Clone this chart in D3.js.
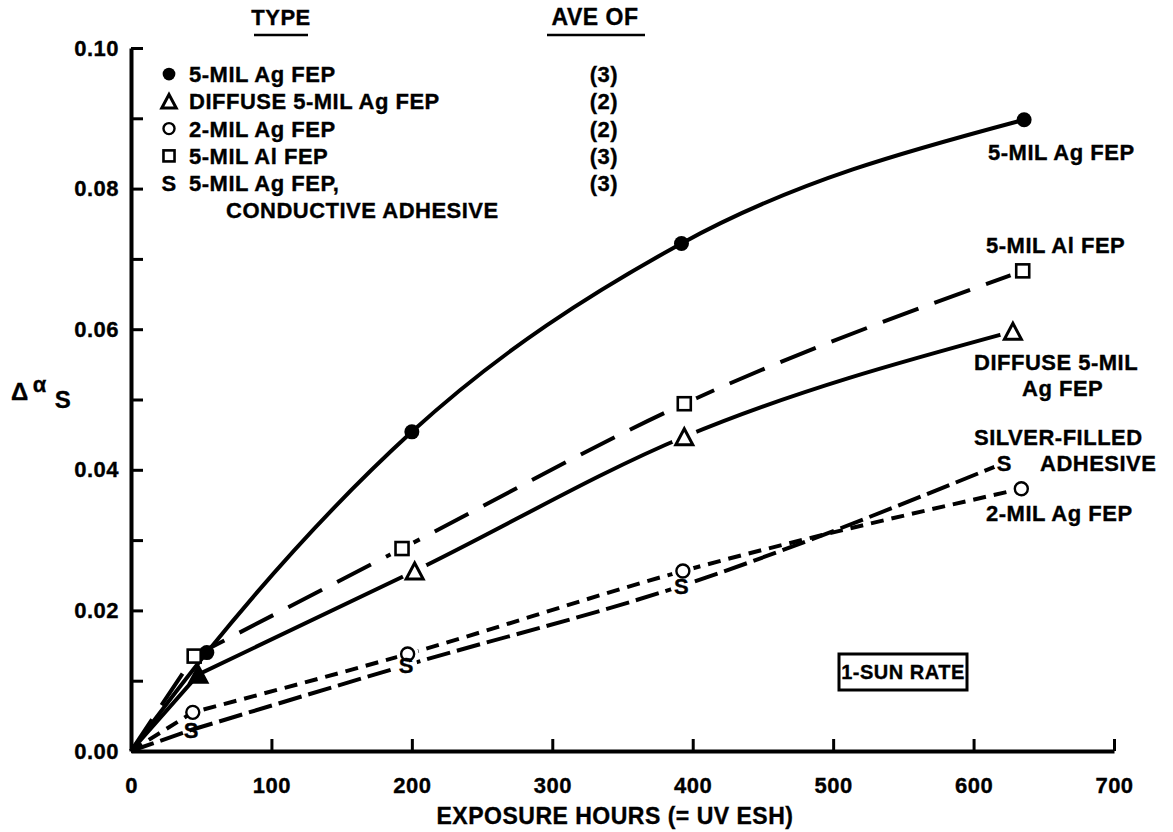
<!DOCTYPE html>
<html>
<head>
<meta charset="utf-8">
<script src="https://cdn.jsdelivr.net/npm/d3@7"></script>
<style>
  body { margin: 0; background: #fff; }
  svg text { font-family: "Liberation Sans", Arial, sans-serif; font-weight: bold; fill: #000; stroke: #000; stroke-width: 0.35px; letter-spacing: 0.5px; }
</style>
</head>
<body>
<svg id="chart" width="1173" height="832"></svg>
<script>
// exposure hours and change in solar absorptance
const hoursAgFep = [0, 54, 200, 392, 636];
const dAlphaAgFep = [0, 0.0140, 0.0454, 0.0722, 0.0898];
const hoursDiffuse = [0, 48, 202, 394, 628];
const dAlphaDiffuse = [0, 0.0109, 0.0256, 0.0447, 0.0597];
const hours2Mil = [0, 44, 197, 393, 634];
const dAlpha2Mil = [0, 0.0055, 0.0138, 0.0256, 0.0373];
const hoursAlFep = [0, 45, 193, 394, 635];
const dAlphaAlFep = [0, 0.0135, 0.0288, 0.0494, 0.0683];
const hoursConductive = [0, 43, 196, 392, 622];
const dAlphaConductive = [0, 0.0030, 0.0122, 0.0235, 0.0410];

const legendTypes = ["5-MIL Ag FEP", "DIFFUSE 5-MIL Ag FEP", "2-MIL Ag FEP", "5-MIL Al FEP", "5-MIL Ag FEP,"];
const legendAve = ["(3)", "(2)", "(2)", "(3)", "(3)"];
const legendMarkers = ["dot", "tri", "circle", "square", "s"];

const xTicks = [0, 100, 200, 300, 400, 500, 600, 700];
const yTicks = [0, 0.01, 0.02, 0.03, 0.04, 0.05, 0.06, 0.07, 0.08, 0.09, 0.10];

const svg = d3.select("#chart");
const width = +svg.attr("width");
const height = +svg.attr("height");
const margin = { top: 48, right: 59, bottom: 81, left: 131 };

const x = d3.scaleLinear().domain([0, 700]).range([margin.left, width - margin.right]);
const y = d3.scaleLinear().domain([0, 0.10]).range([height - margin.bottom, margin.top]);

// axes
const yAxis = svg.append("g")
  .attr("transform", `translate(${margin.left},0)`)
  .call(d3.axisLeft(y)
    .tickValues(yTicks)
    .tickSize(-12)
    .tickSizeOuter(0)
    .tickPadding(12)
    .tickFormat(d => Math.round(d * 100) % 2 === 0 ? d3.format(".2f")(d) : ""));

const xAxis = svg.append("g")
  .attr("transform", `translate(0,${height - margin.bottom})`)
  .call(d3.axisBottom(x)
    .tickValues(xTicks)
    .tickSize(-12)
    .tickSizeOuter(0)
    .tickPadding(26));

[xAxis, yAxis].forEach(a => {
  a.select(".domain").attr("stroke", "#000").attr("stroke-width", 4);
  a.selectAll(".tick line").attr("stroke", "#000").attr("stroke-width", 3);
  a.selectAll(".tick text").attr("font-size", 22).attr("font-family", null);
});

// axis titles
svg.append("text")
  .attr("x", 615)
  .attr("y", 824)
  .attr("text-anchor", "middle")
  .attr("font-size", 23)
  .text("EXPOSURE HOURS (= UV ESH)");

const yTitle = svg.append("text").attr("x", 11).attr("y", 400).attr("font-size", 24);
yTitle.append("tspan").text("Δ");
yTitle.append("tspan").attr("font-size", 22).attr("dy", -8).attr("dx", 4).text("α");
yTitle.append("tspan").attr("font-size", 24).attr("dy", 16).attr("dx", 8).text("S");

// series
const series = [
  { hours: hoursAgFep, vals: dAlphaAgFep, marker: "dot", dash: null, halo: 0 },
  { hours: hoursDiffuse, vals: dAlphaDiffuse, marker: "tri", dash: null, halo: 13 },
  { hours: hours2Mil, vals: dAlpha2Mil, marker: "circle", dash: "13,8", halo: 11 },
  { hours: hoursAlFep, vals: dAlphaAlFep, marker: "square", dash: "38,17", halo: 13 },
  { hours: hoursConductive, vals: dAlphaConductive, marker: "s", dash: "24,7", halo: 11 }
];

const smooth = d3.line()
  .x(d => x(d[0]))
  .y(d => y(d[1]))
  .curve(d3.curveMonotoneX);
const straight = d3.line()
  .x(d => x(d[0]))
  .y(d => y(d[1]));

series.forEach(s => {
  const pts = s.hours.map((h, i) => [h, s.vals[i]]);
  // the top curve bends all the way from the origin, the others run
  // straight out of the origin and bend gently after the first reading
  const d = s.marker === "dot" ? smooth(pts) : straight(pts.slice(0, 2)) + smooth(pts.slice(1)).replace(/^M/, "L");
  svg.append("path")
    .attr("d", d)
    .attr("fill", "none")
    .attr("stroke", "#000")
    .attr("stroke-width", 4)
    .attr("stroke-dasharray", s.dash);
});

function drawMarker(g, type, cx, cy, filled, k) {
  if (type === "dot") {
    g.append("circle").attr("cx", cx).attr("cy", cy).attr("r", 7.5 * k).attr("fill", "#000");
  } else if (type === "tri") {
    const h = 16 * k, w = 17 * k;
    g.append("path")
      .attr("d", `M${cx},${cy - h / 2}L${cx + w / 2},${cy + h / 2}L${cx - w / 2},${cy + h / 2}Z`)
      .attr("fill", filled ? "#000" : "#fff").attr("stroke", "#000").attr("stroke-width", 3).attr("stroke-linejoin", "miter");
  } else if (type === "circle") {
    g.append("circle").attr("cx", cx).attr("cy", cy).attr("r", 6.5 * k)
      .attr("fill", "#fff").attr("stroke", "#000").attr("stroke-width", 2.4);
  } else if (type === "square") {
    const a = 13 * k;
    g.append("rect").attr("x", cx - a / 2).attr("y", cy - a / 2).attr("width", a).attr("height", a)
      .attr("fill", "#fff").attr("stroke", "#000").attr("stroke-width", 2.6);
  } else if (type === "s") {
    g.append("text").attr("x", cx).attr("y", cy).attr("dy", "0.36em")
      .attr("text-anchor", "middle").attr("font-size", 22).text("S");
  }
}

// white halos break the lines around the open markers
series.forEach(s => {
  s.hours.forEach((h, i) => {
    if (i === 0 || s.halo === 0 || h < 100) return;
    svg.append("circle").attr("cx", x(h)).attr("cy", y(s.vals[i])).attr("r", s.halo).attr("fill", "#fff");
  });
});
series.forEach(s => {
  s.hours.forEach((h, i) => {
    if (i === 0) return;
    // near the origin the crowded lines fill the triangle in
    drawMarker(svg, s.marker, x(h), y(s.vals[i]), h < 100, 1);
  });
});

// legend
svg.append("text").attr("x", 281).attr("y", 25).attr("text-anchor", "middle").attr("font-size", 22).text("TYPE");
svg.append("line").attr("x1", 254).attr("x2", 308).attr("y1", 35).attr("y2", 35).attr("stroke", "#000").attr("stroke-width", 2.5);
svg.append("text").attr("x", 595).attr("y", 25).attr("text-anchor", "middle").attr("font-size", 23).text("AVE OF");
svg.append("line").attr("x1", 547).attr("x2", 645).attr("y1", 35).attr("y2", 35).attr("stroke", "#000").attr("stroke-width", 2.5);

legendTypes.forEach((t, i) => {
  const ly = 74 + i * 27.3;
  drawMarker(svg, legendMarkers[i], 169, ly, false, 0.85);
  svg.append("text").attr("x", 189).attr("y", ly).attr("dy", "0.36em").attr("font-size", 22).text(t);
  svg.append("text").attr("x", 604).attr("y", ly).attr("dy", "0.36em").attr("text-anchor", "middle").attr("font-size", 22).text(legendAve[i]);
});
svg.append("text").attr("x", 226).attr("y", 74 + 5 * 27.3).attr("dy", "0.36em").attr("font-size", 22).text("CONDUCTIVE ADHESIVE");

// curve labels
const curveLabels = [
  { text: "5-MIL Ag FEP", x: 988, y: 152 },
  { text: "5-MIL Al FEP", x: 986, y: 245 },
  { text: "DIFFUSE 5-MIL", x: 974, y: 362 },
  { text: "Ag FEP", x: 1022, y: 388 },
  { text: "SILVER-FILLED", x: 974, y: 437 },
  { text: "ADHESIVE", x: 1040, y: 463 },
  { text: "2-MIL Ag FEP", x: 986, y: 513 }
];
curveLabels.forEach(c => {
  svg.append("text").attr("x", c.x).attr("y", c.y).attr("dy", "0.36em").attr("font-size", 22).text(c.text);
});

// rate box
svg.append("rect").attr("x", 839).attr("y", 654).attr("width", 128).attr("height", 36)
  .attr("fill", "#fff").attr("stroke", "#000").attr("stroke-width", 3);
svg.append("text").attr("x", 903).attr("y", 672).attr("dy", "0.36em").attr("text-anchor", "middle")
  .attr("font-size", 20).text("1-SUN RATE");
</script>
</body>
</html>
